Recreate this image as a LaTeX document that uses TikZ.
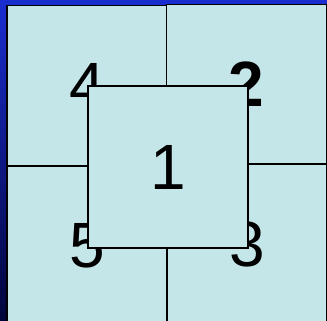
\documentclass[tikz,border=0pt]{standalone}
\usepackage{fontspec}
\setmainfont{Liberation Sans}
\usetikzlibrary{positioning}

\definecolor{tilefill}{RGB}{197,230,232}
\definecolor{bgtop}{RGB}{26,46,208}
\definecolor{bgbottom}{RGB}{2,4,58}

\begin{document}
\begin{tikzpicture}[
    x=1pt, y=-1pt,
    tile/.style={draw, line width=1.1pt, fill=tilefill, inner sep=0pt,
                 minimum width=160pt, minimum height=160pt, font=\fontsize{64}{64}\selectfont},
    front/.style={tile, minimum height=162pt}
]
    \useasboundingbox (0,0) rectangle (327,321);
    % Hintergrund
    \shade[top color=bgtop, bottom color=bgbottom] (0,0) rectangle (327,321);

    % vier Felder
    \node[tile] (t4) at (87,85.5) {4};
    \node[tile] (t2) at (246.5,84.5) {\textbf{2}};
    \node[tile] (t5) at (87,246) {5};
    \node[tile] (t3) at (247,244) {3};

    % Feld 1 oben
    \node[front] (t1) at (168,167) {1};
\end{tikzpicture}
\end{document}
